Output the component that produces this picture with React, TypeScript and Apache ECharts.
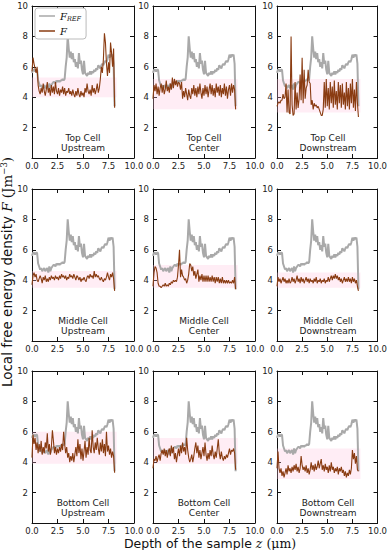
import React, { useEffect, useRef } from "react";
import * as echarts from "echarts";

const depth = [0.0, 0.1, 0.2, 0.3, 0.4, 0.5, 0.6, 0.7, 0.8, 0.9, 1.0, 1.1, 1.2, 1.3, 1.4, 1.5, 1.6, 1.7, 1.8, 1.9, 2.0, 2.1, 2.2, 2.3, 2.4, 2.5, 2.6, 2.7, 2.8, 2.9, 3.0, 3.1, 3.2, 3.3, 3.4, 3.5, 3.6, 3.7, 3.8, 3.9, 4.0, 4.1, 4.2, 4.3, 4.4, 4.5, 4.6, 4.7, 4.8, 4.9, 5.0, 5.1, 5.2, 5.3, 5.4, 5.5, 5.6, 5.7, 5.8, 5.9, 6.0, 6.1, 6.2, 6.3, 6.4, 6.5, 6.6, 6.7, 6.8, 6.9, 7.0, 7.1, 7.2, 7.3, 7.4, 7.5, 7.6, 7.7, 7.8, 7.9, 8.0, 8.1];

const fRef = [5.6, 5.8, 5.8, 5.7, 5.8, 5.8, 5.1, 4.9, 4.7, 4.8, 4.6, 4.7, 4.8, 4.6, 4.7, 4.8, 4.5, 4.9, 4.6, 4.8, 4.9, 5.0, 5.0, 4.9, 5.1, 5.0, 5.1, 5.0, 5.1, 5.1, 5.2, 5.1, 5.2, 6.0, 6.6, 8.0, 7.2, 6.6, 7.0, 6.5, 6.9, 6.3, 6.5, 6.0, 6.3, 5.9, 6.9, 6.2, 6.4, 5.8, 5.5, 6.4, 5.6, 5.5, 5.4, 5.6, 5.5, 5.7, 5.5, 5.7, 5.6, 5.8, 5.7, 5.9, 5.8, 6.1, 6.0, 5.9, 6.1, 6.2, 6.1, 6.3, 6.4, 6.3, 6.5, 6.8, 6.6, 6.8, 6.7, 6.8, 6.2, 3.4];

const fTopUp = [5.7, 6.6, 6.2, 5.9, 5.6, 6.0, 4.8, 4.4, 4.2, 4.6, 4.3, 4.9, 4.4, 4.1, 4.5, 5.0, 4.3, 4.6, 4.1, 4.8, 4.3, 4.7, 4.2, 5.0, 4.4, 4.2, 4.6, 4.1, 4.5, 4.3, 4.7, 4.2, 4.6, 4.1, 4.4, 4.3, 4.6, 4.2, 4.4, 4.1, 4.5, 4.2, 4.0, 4.4, 4.1, 4.6, 4.2, 4.0, 4.4, 4.1, 4.3, 4.0, 4.6, 4.3, 4.9, 4.4, 4.2, 4.5, 4.1, 4.8, 4.3, 4.6, 4.2, 4.5, 4.9, 4.3, 4.6, 5.2, 6.0, 5.6, 6.5, 8.2, 7.6, 6.2, 5.4, 6.3, 5.6, 7.6, 6.9, 6.0, 7.2, 3.3];
const fTopCenter = [3.9, 4.8, 4.4, 4.9, 4.2, 4.7, 4.1, 4.6, 4.9, 4.3, 4.8, 4.2, 4.5, 5.1, 4.4, 4.7, 4.3, 4.9, 4.5, 5.3, 4.6, 5.2, 4.8, 5.1, 4.7, 5.0, 4.9, 4.5, 5.0, 3.9, 4.4, 4.0, 4.6, 4.2, 3.8, 4.5, 4.1, 3.9, 4.6, 4.2, 4.8, 4.1, 4.6, 4.0, 4.7, 4.2, 4.9, 4.3, 3.9, 4.6, 4.1, 4.8, 4.2, 4.7, 4.0, 4.5, 4.9, 4.2, 4.8, 4.1, 4.6, 4.0, 4.9, 4.3, 4.7, 4.1, 4.8, 4.0, 4.6, 4.2, 4.9, 4.1, 4.7, 3.9, 4.5, 4.8, 4.1, 4.9, 4.3, 4.8, 4.5, 3.2];
const fTopDown = [3.4, 3.6, 3.7, 3.6, 3.8, 3.8, 4.2, 3.9, 4.0, 4.9, 3.0, 4.5, 3.0, 2.9, 8.0, 3.5, 2.8, 2.9, 5.0, 3.2, 4.3, 3.3, 3.9, 5.5, 3.8, 6.6, 3.6, 5.8, 3.9, 4.6, 4.8, 5.8, 5.0, 4.9, 3.5, 3.8, 3.2, 3.6, 3.4, 3.5, 3.3, 3.4, 3.2, 3.0, 2.8, 2.8, 3.2, 5.0, 3.3, 5.2, 3.4, 4.6, 3.2, 5.0, 3.6, 4.7, 3.3, 5.1, 3.5, 4.4, 3.2, 5.0, 3.6, 4.8, 3.3, 4.9, 3.5, 4.3, 3.2, 5.0, 3.4, 4.6, 3.2, 4.9, 3.6, 5.2, 3.3, 4.5, 3.1, 5.0, 3.6, 2.7];
const fMidUp = [3.7, 4.3, 4.5, 4.2, 4.4, 4.0, 3.9, 4.1, 4.3, 4.1, 3.8, 4.2, 4.0, 4.3, 3.9, 4.1, 3.9, 4.2, 4.0, 4.3, 4.1, 4.2, 4.0, 4.3, 4.1, 4.2, 4.0, 4.3, 4.1, 4.4, 4.2, 4.3, 4.1, 4.3, 4.0, 4.2, 4.1, 4.4, 4.2, 4.3, 4.1, 4.4, 4.2, 4.0, 4.3, 4.2, 4.0, 4.2, 3.9, 4.1, 4.0, 4.2, 4.0, 3.9, 4.2, 4.3, 4.1, 4.4, 4.2, 4.3, 4.1, 4.6, 4.2, 4.4, 4.2, 4.3, 4.1, 4.0, 4.2, 4.0, 3.9, 4.1, 4.0, 4.2, 4.5, 4.2, 4.0, 4.4, 4.2, 4.5, 4.1, 3.3];
const fMidCenter = [3.6, 4.5, 4.9, 4.8, 4.5, 3.8, 3.6, 3.6, 3.5, 3.6, 3.7, 3.6, 3.8, 3.6, 3.7, 3.6, 3.8, 3.7, 3.9, 3.8, 4.0, 3.9, 4.0, 3.9, 4.2, 5.0, 6.0, 4.2, 4.7, 4.3, 4.2, 4.0, 4.1, 3.8, 4.0, 4.4, 5.1, 5.0, 4.6, 4.9, 4.3, 4.6, 4.1, 4.4, 4.7, 3.9, 4.3, 4.0, 4.4, 3.9, 4.3, 3.9, 4.3, 3.9, 4.3, 3.9, 4.2, 3.9, 4.3, 3.9, 4.2, 3.8, 4.2, 3.9, 4.2, 3.8, 4.1, 3.8, 4.2, 3.8, 4.0, 3.8, 4.0, 3.8, 4.0, 3.8, 3.9, 3.8, 4.0, 3.8, 4.2, 3.4];
const fMidDown = [3.6, 4.2, 3.9, 4.1, 3.8, 4.0, 4.2, 3.9, 4.1, 3.8, 4.0, 3.8, 4.1, 3.8, 3.9, 4.2, 3.9, 4.1, 3.8, 4.0, 4.3, 3.9, 4.1, 3.8, 4.2, 3.9, 4.1, 3.8, 4.0, 4.2, 3.9, 4.1, 3.8, 4.1, 3.9, 4.0, 3.8, 4.1, 3.9, 4.2, 3.8, 4.0, 3.9, 4.1, 3.8, 4.0, 3.9, 4.1, 3.8, 4.0, 3.9, 4.2, 3.9, 4.1, 4.3, 4.0, 4.3, 4.1, 4.4, 4.1, 4.3, 4.0, 4.2, 3.9, 4.1, 3.8, 4.0, 4.2, 3.9, 4.1, 3.9, 4.2, 3.9, 4.1, 3.8, 4.2, 3.9, 4.1, 3.8, 4.0, 3.6, 3.3];
const fBotUp = [4.3, 5.8, 5.2, 5.6, 4.8, 5.3, 4.6, 5.2, 4.7, 5.4, 4.5, 5.0, 4.6, 5.3, 4.9, 5.9, 4.7, 5.2, 4.5, 5.0, 6.1, 5.4, 4.6, 5.0, 4.5, 4.9, 4.6, 5.0, 4.7, 5.2, 4.8, 6.0, 5.2, 4.6, 5.0, 4.3, 4.6, 4.0, 4.4, 4.1, 4.6, 4.0, 4.5, 5.0, 4.4, 5.5, 4.6, 5.2, 4.2, 4.9, 4.1, 4.7, 5.4, 4.3, 5.0, 4.5, 5.6, 4.8, 4.6, 6.1, 5.0, 4.6, 5.3, 4.8, 5.6, 4.9, 4.5, 5.3, 4.7, 5.5, 4.6, 5.2, 4.4, 6.0, 4.7, 5.1, 4.5, 4.9, 4.3, 4.7, 4.4, 3.3];
const fBotCenter = [3.6, 4.2, 4.1, 4.4, 4.0, 4.3, 4.5, 4.1, 4.6, 4.8, 4.5, 4.9, 4.4, 4.8, 4.3, 4.7, 4.9, 4.4, 5.1, 4.6, 5.0, 4.2, 4.6, 4.0, 4.5, 4.9, 4.4, 5.1, 4.6, 5.3, 4.7, 5.0, 4.5, 5.6, 4.8, 4.3, 4.0, 4.2, 4.5, 4.0, 4.4, 4.9, 5.3, 4.6, 5.1, 4.3, 4.8, 4.2, 4.6, 5.0, 4.4, 5.3, 4.5, 4.1, 4.6, 4.2, 4.8, 4.4, 5.1, 4.5, 4.2, 4.7, 4.3, 4.9, 5.5, 4.6, 4.2, 4.7, 4.3, 4.1, 4.4, 4.2, 4.5, 4.3, 4.6, 4.9, 4.5, 4.8, 4.7, 4.9, 4.6, 3.5];
const fBotDown = [3.6, 4.7, 3.6, 3.3, 3.6, 3.1, 3.4, 3.0, 3.3, 3.6, 3.2, 3.8, 3.4, 3.6, 3.3, 3.7, 3.4, 3.8, 3.5, 3.9, 3.4, 3.7, 3.3, 3.6, 4.4, 3.8, 3.5, 3.7, 3.4, 3.8, 3.3, 3.6, 3.2, 3.5, 4.0, 3.5, 3.8, 3.4, 3.9, 3.5, 3.7, 4.1, 3.6, 3.9, 4.2, 3.5, 3.8, 3.4, 3.9, 3.5, 3.7, 3.3, 3.8, 3.4, 4.0, 3.5, 3.7, 3.3, 3.6, 3.4, 3.7, 3.2, 3.6, 3.4, 3.7, 3.3, 3.5, 3.1, 3.4, 3.0, 3.3, 3.1, 3.5, 3.2, 3.6, 4.8, 4.2, 4.6, 3.9, 4.4, 3.5, 3.4];

const panelValues = [fTopUp, fTopCenter, fTopDown, fMidUp, fMidCenter, fMidDown, fBotUp, fBotCenter, fBotDown];
// light band behind each F curve [low, high]
const bandRanges = [[4.0, 5.3], [3.2, 5.2], [3.0, 5.2], [3.5, 4.6], [3.5, 5.0], [3.5, 4.5], [3.9, 6.0], [3.9, 5.6], [2.9, 4.9]];
const cellNames = ["Top Cell", "Middle Cell", "Bottom Cell"];
const positionNames = ["Upstream", "Center", "Downstream"];
const yTicks = [2, 4, 6, 8, 10];

const colLefts = [32, 153, 277];
const rowTops = [6, 189, 371];
const PW = 102;
const PH = 152;

const GRAY = "#a9a9a9";
const BROWN = "#8a3c12";

export default function App() {
  const ref = useRef<HTMLDivElement>(null);
  useEffect(() => {
    document.body.style.margin = "0";
    if (!ref.current) return;
    const chart = echarts.init(ref.current, undefined, { renderer: "svg" });
    const grids: any[] = [];
    const xAxes: any[] = [];
    const yAxes: any[] = [];
    const series: any[] = [];
    const graphics: any[] = [];
    const font = "DejaVu Sans";
    for (let r = 0; r < 3; r++) {
      for (let c = 0; c < 3; c++) {
        const p = r * 3 + c;
        grids.push({ left: colLefts[c], top: rowTops[r], width: PW, height: PH, containLabel: false });
        const baseX = {
          type: "value", gridIndex: p, min: 0, max: 10, interval: 2.5,
          axisLine: { show: true, onZero: false, lineStyle: { color: "#111", width: 1 } },
          axisTick: { show: true, inside: true, length: 4, lineStyle: { color: "#111" } },
          splitLine: { show: false },
        };
        xAxes.push({
          ...baseX, position: "bottom",
          axisLabel: { show: true, fontSize: 8.5, fontFamily: font, color: "#222", margin: 3, formatter: (v: number) => v.toFixed(1), showMinLabel: true, showMaxLabel: true },
        });
        xAxes.push({ ...baseX, position: "top", axisLabel: { show: false } });
        const baseY = {
          type: "value", gridIndex: p, min: 0, max: 10, interval: 2,
          axisLine: { show: true, onZero: false, lineStyle: { color: "#111", width: 1 } },
          axisTick: { show: true, inside: true, length: 4, lineStyle: { color: "#111" } },
          splitLine: { show: false },
        };
        yAxes.push({
          ...baseY, position: "left",
          axisLabel: { show: true, fontSize: 8.5, fontFamily: font, color: "#222", margin: 4, showMinLabel: false, formatter: (v: number) => (yTicks.includes(v) ? String(v) : "") },
        });
        yAxes.push({ ...baseY, position: "right", axisLabel: { show: false } });
        const xi = p * 2;
        const yi = p * 2;
        series.push({
          name: "F_REF", type: "line", xAxisIndex: xi, yAxisIndex: yi,
          data: depth.map((d, i) => [d, fRef[i]]),
          showSymbol: false, symbol: "none",
          lineStyle: { color: GRAY, width: 2 }, itemStyle: { color: GRAY },
          z: 2,
        });
        const band = bandRanges[p];
        series.push({
          name: "F", type: "line", xAxisIndex: xi, yAxisIndex: yi,
          data: depth.map((d, i) => [d, panelValues[p][i]]),
          showSymbol: false, symbol: "none",
          lineStyle: { color: BROWN, width: 1.1 }, itemStyle: { color: BROWN },
          markArea: {
            silent: true,
            itemStyle: { color: "rgba(255, 190, 220, 0.28)" },
            data: [[{ coord: [0, band[0]] }, { coord: [8.3, band[1]] }]],
          },
          z: 3,
        });
        graphics.push({
          type: "text",
          x: colLefts[c] + PW / 2,
          y: rowTops[r] + 127,
          style: {
            text: cellNames[r] + "\n" + positionNames[c],
            fontSize: 9, fontFamily: font, fill: "#222",
            textAlign: "center", lineHeight: 10,
          },
        });
      }
    }
    graphics.push({
      type: "text",
      x: 7, y: 272, rotation: Math.PI / 2,
      style: {
        text: "Local free energy density {i|F} {u|(Jm}{s|−3}{u|)}",
        fontSize: 13.5, fontFamily: font, fill: "#111",
        textAlign: "center", textVerticalAlign: "middle",
        rich: {
          i: { fontSize: 13.5, fontFamily: "DejaVu Serif", fontStyle: "italic", fill: "#111" },
          u: { fontSize: 13.5, fontFamily: "DejaVu Serif", fill: "#111" },
          s: { fontSize: 8.5, fontFamily: "DejaVu Serif", fill: "#111", padding: [0, 0, 6, 0] },
        },
      },
    });
    graphics.push({
      type: "text",
      x: 210, y: 543,
      style: {
        text: "Depth of the sample {i|z} {u|(μm)}",
        fontSize: 12.5, fontFamily: font, fill: "#111",
        textAlign: "center", textVerticalAlign: "middle",
        rich: {
          i: { fontSize: 12.5, fontFamily: "DejaVu Serif", fontStyle: "italic", fill: "#111" },
          u: { fontSize: 12.5, fontFamily: "DejaVu Serif", fill: "#111" },
        },
      },
    });
    chart.setOption({
      animation: false,
      backgroundColor: "#fff",
      grid: grids,
      xAxis: xAxes,
      yAxis: yAxes,
      series,
      legend: {
        show: true, orient: "vertical", left: 35, top: 8,
        data: ["F_REF", "F"],
        icon: "rect", itemWidth: 16, itemHeight: 1.5, itemGap: 4,
        padding: [3, 5, 3, 4],
        borderColor: "#bbb", borderWidth: 1, borderRadius: 3,
        backgroundColor: "#fff",
        formatter: (name: string) => (name === "F_REF" ? "{i|F}{s|REF}" : "{i|F}"),
        textStyle: {
          rich: {
            i: { fontFamily: "DejaVu Serif", fontStyle: "italic", fontSize: 10, color: "#111" },
            s: { fontFamily: "DejaVu Serif", fontStyle: "italic", fontSize: 6.5, color: "#111", padding: [5, 0, 0, 0] },
          },
        },
      },
      graphic: graphics,
    });
    return () => chart.dispose();
  }, []);
  return <div ref={ref} style={{ width: 390, height: 550 }} />;
}
